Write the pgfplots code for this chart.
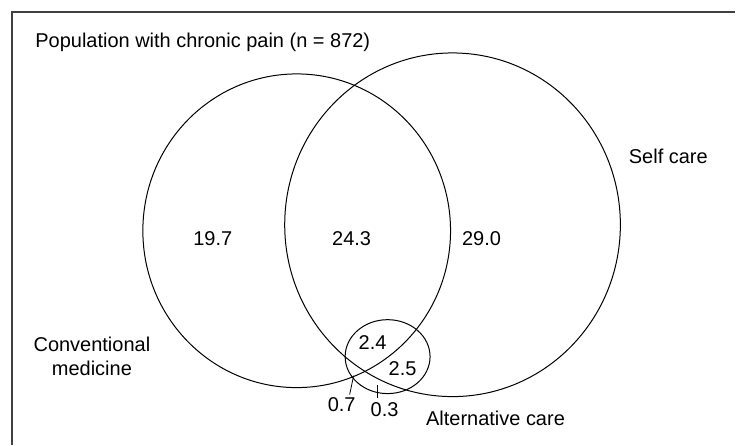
\documentclass[border=0pt]{standalone}
\usepackage{pgfplots}
\pgfplotsset{compat=1.18}
\usepackage{pgfplotstable}
\usepackage{fontspec}
\setmainfont{Liberation Sans}

\pgfplotstableread{
x y label
213 239 19.7
352 239 24.3
482 239 29.0
373 343 2.4
403 369 2.5
342 405 0.7
385 410 0.3
}\values

\begin{document}
\begin{tikzpicture}
\begin{axis}[
  width=368pt, height=222.5pt, scale only axis,
  xmin=0, xmax=736, ymin=0, ymax=445, y dir=reverse,
  hide axis, clip=false,
  font=\fontsize{10}{12}\selectfont,
]
\path (axis cs:0,0) (axis cs:736,445);
% frame (top and left edges)
\draw[black!75, line width=0.75pt] (axis cs:12,445) -- (axis cs:12,12) -- (axis cs:736,12);
% sets
\draw[line width=0.5pt] (axis cs:297,231) ellipse [x radius=154, y radius=157];
\draw[line width=0.5pt] (axis cs:453,225) ellipse [x radius=168, y radius=172];
\draw[line width=0.5pt] (axis cs:388,357) ellipse [x radius=42.5, y radius=37];
% leader lines
\draw[line width=0.4pt] (axis cs:354,376) -- (axis cs:350,395);
\draw[line width=0.4pt] (axis cs:378,385) -- (axis cs:378,398);
% region values
\addplot[only marks, mark=none, nodes near coords, point meta=explicit symbolic,
  nodes near coords style={anchor=center, inner sep=0pt, font=\fontsize{10}{12}\selectfont}]
  table[x=x, y=y, meta=label] {\values};
% labels
\node[anchor=west, inner sep=0pt] at (axis cs:35,42) {Population with chronic pain (n = 872)};
\node[inner sep=0pt] at (axis cs:669,157) {Self care};
\node[inner sep=0pt, align=center] at (axis cs:92,357) {Conventional\\medicine};
\node[inner sep=0pt] at (axis cs:496,419) {Alternative care};
\end{axis}
\end{tikzpicture}
\end{document}
